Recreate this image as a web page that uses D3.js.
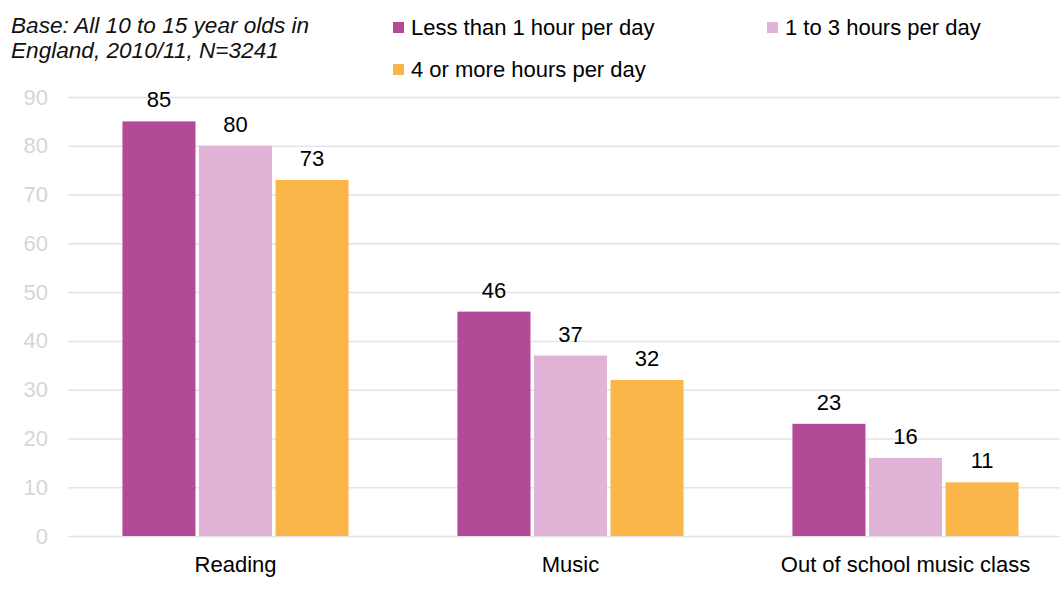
<!DOCTYPE html>
<html>
<head>
<meta charset="utf-8">
<script src="https://cdn.jsdelivr.net/npm/d3@7"></script>
<style>
  html, body { margin: 0; padding: 0; background: #fff; }
  svg { display: block; font-family: "Liberation Sans", Arial, sans-serif; }
</style>
</head>
<body>
<svg id="chart" width="1060" height="603"></svg>
<script>
// Activities by daily screen time
const categories = ["Reading", "Music", "Out of school music class"];
const seriesNames = ["Less than 1 hour per day", "1 to 3 hours per day", "4 or more hours per day"];
const lessThan1 = [85, 46, 23];
const oneToThree = [80, 37, 16];
const fourOrMore = [73, 32, 11];
const yTicks = [0, 10, 20, 30, 40, 50, 60, 70, 80, 90];
const colors = ["#B24A97", "#E1B3D6", "#FBB64A"];
const baseNote = ["Base: All 10 to 15 year olds in", "England, 2010/11, N=3241"];

const seriesValues = [lessThan1, oneToThree, fourOrMore];
const FONT = "22px";

const svg = d3.select("#chart");

const y = d3.scaleLinear().domain([0, 90]).range([536, 97]);
const x0 = d3.scaleBand().domain(categories).range([68, 1073])
  .paddingInner(0.325).paddingOuter(0.1625);
const x1 = d3.scaleBand().domain(seriesNames).range([0, x0.bandwidth()])
  .paddingInner(0.046).paddingOuter(0);

// Gridlines and tick labels
const yAxis = d3.axisLeft(y).tickValues(yTicks).tickSize(-(1060 - 68)).tickPadding(20);
const gy = svg.append("g").attr("transform", "translate(68,0)").call(yAxis);
gy.select(".domain").remove();
gy.selectAll(".tick line").attr("stroke", "#E3E3E3").attr("stroke-width", 1.5);
gy.selectAll(".tick text").attr("fill", "#D6D6D6").style("font-size", FONT)
  .attr("font-family", "Liberation Sans, Arial, sans-serif");

// Bars
const groups = svg.append("g").selectAll("g")
  .data(categories).join("g")
  .attr("transform", d => `translate(${x0(d)},0)`);

groups.selectAll("rect")
  .data((c, ci) => seriesNames.map((s, si) => ({ s, si, v: seriesValues[si][ci] })))
  .join("rect")
  .attr("x", d => x1(d.s))
  .attr("width", x1.bandwidth())
  .attr("y", d => y(d.v))
  .attr("height", d => y(0) - y(d.v))
  .attr("fill", d => colors[d.si]);

groups.selectAll("text.val")
  .data((c, ci) => seriesNames.map((s, si) => ({ s, si, v: seriesValues[si][ci] })))
  .join("text")
  .attr("class", "val")
  .attr("x", d => x1(d.s) + x1.bandwidth() / 2)
  .attr("y", d => y(d.v) - 14)
  .attr("text-anchor", "middle")
  .attr("fill", "#000")
  .style("font-size", FONT)
  .text(d => d.v);

// Category axis labels
const xAxis = d3.axisBottom(x0).tickSize(0).tickPadding(20);
const gx = svg.append("g").attr("transform", "translate(0,536)").call(xAxis);
gx.select(".domain").remove();
gx.selectAll(".tick text").attr("fill", "#000").style("font-size", FONT)
  .attr("font-family", "Liberation Sans, Arial, sans-serif");

// Base note
svg.append("text")
  .attr("x", 11).attr("y", 33)
  .attr("font-style", "italic")
  .style("font-size", "22.6px")
  .attr("fill", "#111")
  .selectAll("tspan").data(baseNote).join("tspan")
  .attr("x", 11).attr("dy", (d, i) => i === 0 ? 0 : 25)
  .text(d => d);

// Legend
const legendPos = [[393, 35], [767, 35], [393, 77]];
const legend = svg.append("g").selectAll("g")
  .data(seriesNames).join("g")
  .attr("transform", (d, i) => `translate(${legendPos[i][0]},${legendPos[i][1]})`);
legend.append("rect")
  .attr("x", 0).attr("y", -13).attr("width", 11).attr("height", 11)
  .attr("fill", (d, i) => colors[i]);
legend.append("text")
  .attr("x", 18).attr("y", 0)
  .style("font-size", FONT)
  .attr("fill", "#000")
  .text(d => d);
</script>
</body>
</html>
